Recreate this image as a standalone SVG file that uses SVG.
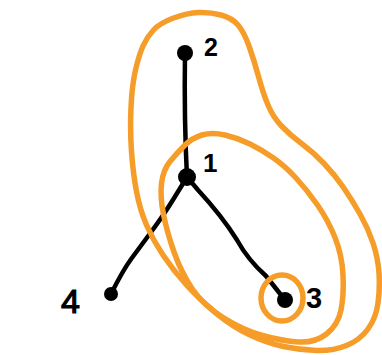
<svg xmlns="http://www.w3.org/2000/svg" width="382" height="355" viewBox="0 0 382 355">
<style>
.loop{fill:none;stroke:#F59D28;stroke-width:5.5;stroke-linecap:round;stroke-linejoin:round}
.edge{fill:none;stroke:#000;stroke-width:4.5;stroke-linecap:round;stroke-linejoin:round}
.dot{fill:#000}
.lbl{font-family:"Liberation Sans",Arial,sans-serif;font-weight:bold;fill:#000}
.thin{font-weight:normal;stroke:#000;stroke-width:1.2}
</style>
<rect width="382" height="355" fill="#fff"/>
<g id="connectors">
<path class="edge" d="M185,53 Q184,120 187,177"/>
<path class="edge" d="M187,177 Q173,200 166.5,210 Q160,220 150,233.5 Q140,247 131.5,258.5 Q123,270 111,294"/>
<path class="edge" d="M187,177 L198,190 Q222,216 237,240 Q248,260 266,276 L285,300"/>
</g>
<g id="groups">
<path id="loop-big" class="loop" d="M143,46 Q147,37 153.5,30 Q160,23 173.5,18 Q187,13 198.5,12.5 Q210,12 221,15 Q232,18 238,25 Q244,32 249,46 Q254,60 258.5,76.5 Q263,93 268,105 Q273,117 281.5,126 Q290,135 301.5,143.5 Q313,152 324,163.5 Q335,175 343.5,187.5 Q352,200 360,214 Q368,228 373,243 Q378,258 379,273 Q380,288 378,303 Q376,318 368,329 Q360,340 346.5,345.5 Q333,351 316.5,350.5 Q300,350 283.5,346.5 Q267,343 250,335 Q233,327 216.5,313.5 Q200,300 186.5,285 Q173,270 163,255 Q153,240 146.5,225 Q140,210 136.5,191.5 Q133,173 131.5,151.5 Q130,130 131,107.5 Q132,85 135.5,70 Q139,55 143,46 Z"/>
<path id="loop-mid" class="loop" d="M170,161.5 Q177,153 184.5,145.5 Q192,138 202,135 Q212,132 225,135 Q238,138 250,144 Q262,150 273.5,158 Q285,166 296,178 Q307,190 317.5,205 Q328,220 335,237.5 Q342,255 343,275 Q344,295 341,310 Q338,325 326.5,334 Q315,343 298.5,342 Q282,341 262.5,335.5 Q243,330 223,317.5 Q203,305 192,288.5 Q181,272 174,252 Q167,232 163.5,214.5 Q160,197 161.5,183.5 Q163,170 170,161.5 Z"/>
<ellipse id="loop-small" class="loop" cx="282" cy="298" rx="21" ry="23"/>
</g>
<g id="node-2"><circle class="dot" cx="185" cy="53" r="8"/><text class="lbl" x="204" y="56" font-size="25">2</text></g>
<g id="node-1"><circle class="dot" cx="187" cy="177" r="9"/><text class="lbl" x="203" y="172" font-size="26">1</text></g>
<g id="node-4"><circle class="dot" cx="111" cy="294" r="7"/><text class="lbl thin" x="61" y="313" font-size="34">4</text></g>
<g id="node-3"><circle class="dot" cx="285" cy="300" r="8"/><text class="lbl" x="306" y="308" font-size="29">3</text></g>
</svg>
